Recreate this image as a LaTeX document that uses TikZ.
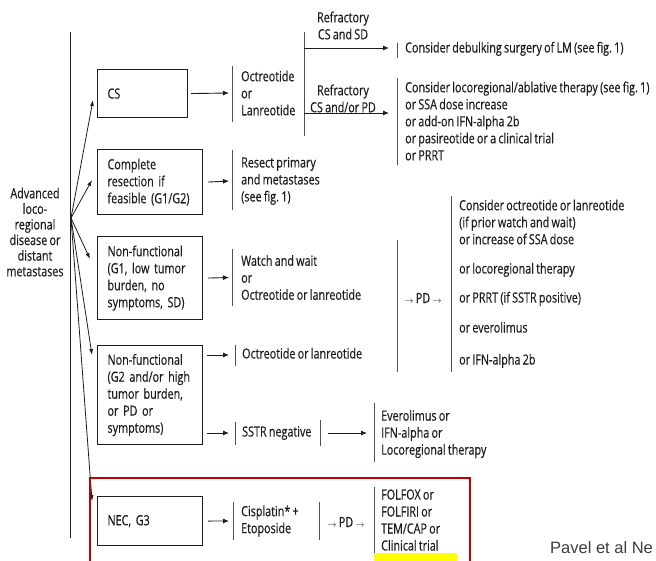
\documentclass[tikz,border=0pt]{standalone}
\usepackage{fontspec}
\setmainfont{Open Sans}[FakeStretch=0.77, WordSpace=0.8, FakeBold=0.4]
\newfontfamily\pavelfont{Liberation Sans}
\usetikzlibrary{arrows.meta}
\definecolor{ink}{HTML}{1C1C1C}
\definecolor{barc}{HTML}{505050}
\definecolor{redb}{HTML}{C00000}
\definecolor{yel}{HTML}{FFFF00}
\newcommand{\pdarrow}{{\fontsize{9}{9}\selectfont$\rightarrow$}}
\frenchspacing
\begin{document}
\begin{tikzpicture}[x=1pt,y=-1pt,
 every node/.style={font=\fontsize{14}{17}\selectfont, text=ink},
 box/.style={draw=ink, line width=1.1pt, anchor=north west, align=left, inner xsep=10pt, inner ysep=0pt},
 txt/.style={anchor=west, align=left, inner sep=0pt},
 stxt/.style={txt, text height=10pt, text depth=3pt},
 ctxt/.style={align=center, inner sep=0pt},
 arr/.style={draw=ink, line width=0.9pt, -{Latex[length=6pt,width=5pt]}},
 fan/.style={draw=ink, line width=0.8pt, -{Latex[length=6pt,width=4pt]}},
 bar/.style={draw=barc, line width=0.9pt},
]
\useasboundingbox (0,0) rectangle (656,560);
\clip (0,0) rectangle (656,560);

% left column
\node[ctxt, font=\fontsize{14}{15.6}\selectfont] (adv) at (35,232) {Advanced\\loco-\\regional\\disease or\\distant\\metastases};
\draw[draw=ink, line width=0.9pt] (70,32) -- (70,538);

% boxes
\node[box, text width=70pt, minimum height=48pt] (cs) at (97,69) {CS};
\node[box, text width=85pt, minimum height=65pt] (cr) at (97,149) {Complete\\resection if\\feasible (G1/G2)};
\node[box, text width=85pt, minimum height=83pt] (nf1) at (97,236) {Non-functional\\(G1, low tumor\\burden, no\\symptoms, SD)};
\node[box, text width=85pt, minimum height=99pt] (nf2) at (97,345) {Non-functional\\(G2 and/or high\\tumor burden,\\or PD or\\symptoms)};
\node[box, text width=85pt, minimum height=49pt] (nec) at (97,496) {NEC, G3};

% fan arrows
\coordinate (o) at (71,218);
\coordinate (t1) at (93,100);
\coordinate (t2) at (92,180);
\coordinate (t3) at (90,259);
\coordinate (t4) at (92,355);
\coordinate (t5) at (92,501);
\draw[fan] (o) -- (t1);
\draw[fan] (o) -- (t2);
\draw[fan] (o) -- (t3);
\draw[fan] (o) -- (t4);
\draw[fan] (o) -- (t5);

% CS branch
\node[txt] (oct) at (241,93) {Octreotide\\or\\Lanreotide};
\draw[bar] (232,66) -- (232,122);
\draw[arr] ([xshift=3pt]cs.east) -- ([xshift=-12pt]oct.west);
\draw[bar] (304,32) -- (304,136);
\coordinate (r1) at (304,48);
\coordinate (r1e) at (389,48);
\coordinate (r2) at (304,113);
\coordinate (r2e) at (389,113);
\draw[arr] (r1) -- (r1e);
\draw[arr] (r2) -- (r2e);
\node[ctxt] (lab1) at (343,25.5) {Refractory\\CS and SD};
\node[ctxt] (lab2) at (343,98.5) {Refractory\\CS and/or PD};
\draw[bar] (397,43) -- (397,58);
\node[stxt] (deb) at (405,49) {Consider debulking surgery of LM (see fig. 1)};
\draw[bar] (397,78) -- (397,165);
\node[txt] (loco) at (405,121) {Consider locoregional/ablative therapy (see fig. 1)\\or SSA dose increase\\or add-on IFN-alpha 2b\\or pasireotide or a clinical trial\\or PRRT};

% resection branch
\node[txt] (res) at (241,181) {Resect primary\\and metastases\\(see fig. 1)};
\draw[bar] (232,150) -- (232,210);
\draw[arr] ([xshift=5pt]cr.east) -- ([xshift=-12pt]res.west);

% non-functional G1
\node[txt] (ww) at (241,277.5) {Watch and wait\\or\\Octreotide or lanreotide};
\draw[bar] (232,249) -- (232,306);
\draw[arr] ([xshift=5pt]nf1.east) -- ([xshift=-12pt]ww.west);

% non-functional G2
\node[stxt] (ol) at (242,355) {Octreotide or lanreotide};
\draw[bar] (235,345) -- (235,366);
\coordinate (g2a) at (207,355);
\coordinate (g2ae) at (229,355);
\draw[arr] (g2a) -- (g2ae);
\node[stxt] (sstr) at (242,433) {SSTR negative};
\draw[bar] (235,422) -- (235,445);
\coordinate (g2b) at (207,433);
\coordinate (g2be) at (229,433);
\draw[arr] (g2b) -- (g2be);
\draw[bar] (320,420) -- (320,446);
\coordinate (s1) at (328,433);
\coordinate (s1e) at (367,433);
\draw[arr] (s1) -- (s1e);
\draw[bar] (374,403) -- (374,462);
\node[txt] (evo) at (381,434) {Everolimus or\\IFN-alpha or\\Locoregional therapy};

% PD section
\draw[bar] (397,240) -- (397,372);
\node[ctxt] (pd1) at (423,298) {\pdarrow{} PD \pdarrow};
\draw[bar] (451,196) -- (451,372);
\node[txt] (p1) at (459,222) {Consider octreotide or lanreotide\\(if prior watch and wait)\\or increase of SSA dose};
\node[stxt] (p2) at (459,270) {or locoregional therapy};
\node[stxt] (p3) at (459,299) {or PRRT (if SSTR positive)};
\node[stxt] (p4) at (459,329) {or everolimus};
\node[stxt] (p5) at (459,361) {or IFN-alpha 2b};

% NEC
\node[txt] (cis) at (241,521) {Cisplatin* +\\Etoposide};
\draw[bar] (233,502) -- (233,540);
\draw[arr] ([xshift=5pt]nec.east) -- ([xshift=-12pt]cis.west);
\draw[bar] (319,502) -- (319,540);
\node[ctxt] (pd2) at (346,522) {\pdarrow{} PD \pdarrow};
\draw[bar] (374,487) -- (374,556);
\node[txt] (fol) at (381,520) {FOLFOX or\\FOLFIRI or\\TEM/CAP or\\Clinical trial};

\draw[draw=redb, line width=2.2pt] (90,478) rectangle (470,566);
\fill[yel] (374,553) rectangle (457,562);

\node[anchor=base west, inner sep=0pt, font=\pavelfont\fontsize{16.5}{18}\selectfont, text=ink!85] (pav) at (550,553) {Pavel et al Ne};
\end{tikzpicture}
\end{document}
